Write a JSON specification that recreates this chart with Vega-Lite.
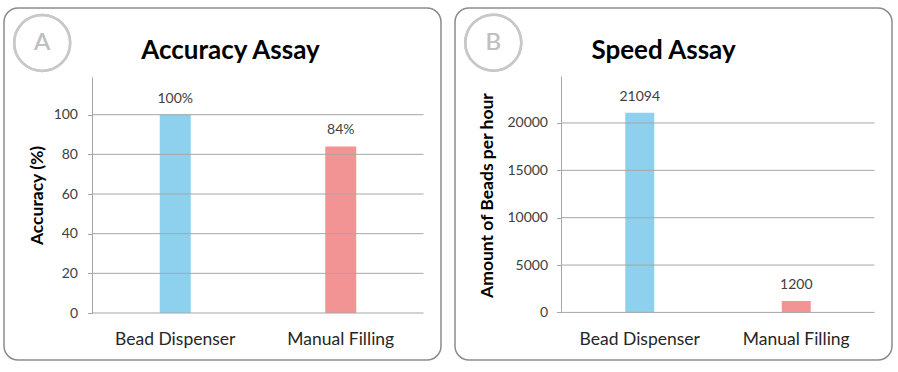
{
  "$schema": "https://vega.github.io/schema/vega-lite/v6.json",
  "background": "white",
  "padding": {"left": 3, "top": 7, "right": 0, "bottom": 0},
  "spacing": 12,
  "config": {
    "view": {"stroke": "#8c8c8c", "strokeWidth": 1.5, "cornerRadius": 14},
    "font": "Lato"
  },
  "hconcat": [
    {
      "width": 437,
      "height": 352,
      "title": {"text": "Accuracy Assay", "offset": -77, "dx": 8, "baseline": "alphabetic", "fontSize": 26, "font": "Lato", "fontWeight": "bold", "color": "#000000"},
      "data": {"values": [
        {"method": "Bead Dispenser", "accuracy": 100, "label": "100%"},
        {"method": "Manual Filling", "accuracy": 84, "label": "84%"}
      ]},
      "layer": [
        {
          "mark": {"type": "bar", "width": 31},
          "encoding": {
            "x": {
              "field": "method", "type": "nominal",
              "scale": {"domain": ["Bead Dispenser", "Manual Filling"], "paddingInner": 0, "paddingOuter": 0.3202, "align": 0.8349},
              "axis": {"orient": "bottom", "offset": -47, "domain": false, "ticks": false, "tickSize": 0, "labelPadding": 17, "labelAngle": 0, "title": null, "labelFont": "Lato", "labelFontSize": 17.5, "labelColor": "#262626", "grid": false}
            },
            "y": {
              "field": "accuracy", "type": "quantitative",
              "scale": {"domain": [-23.7, 153.8], "nice": false, "zero": false},
              "axis": {"orient": "left", "offset": -88.5, "values": [0, 20, 40, 60, 80, 100], "domain": false, "grid": false, "ticks": true, "tickSize": 5, "tickColor": "#a6a6a6", "labelPadding": 10, "labelFont": "Lato", "labelFontSize": 14, "labelColor": "#404040", "title": "Accuracy (%)", "titleFont": "Lato", "titleFontSize": 17.5, "titleFontWeight": "bold", "titleColor": "#000000", "titleX": -50.5, "titleY": 187, "titleAngle": -90, "titleBaseline": "alphabetic", "titleAlign": "center"}
            },
            "color": {"field": "method", "type": "nominal", "scale": {"domain": ["Bead Dispenser", "Manual Filling"], "range": ["#8DD1EE", "#F29494"]}, "legend": null}
          }
        },
        {
          "data": {"values": [{"tick": 0}, {"tick": 20}, {"tick": 40}, {"tick": 60}, {"tick": 80}, {"tick": 100}]},
          "mark": {"type": "rule", "color": "#a6a6a6", "strokeWidth": 1},
          "encoding": {
            "y": {"field": "tick", "type": "quantitative"},
            "x": {"datum": "Bead Dispenser", "type": "nominal", "bandPosition": 0},
            "x2": {"datum": "Manual Filling", "bandPosition": 1}
          }
        },
        {
          "mark": {"type": "rule", "color": "#a6a6a6", "strokeWidth": 1},
          "encoding": {
            "x": {"datum": "Bead Dispenser", "type": "nominal", "bandPosition": 0},
            "y": {"datum": 0, "type": "quantitative"},
            "y2": {"datum": 118.7}
          }
        },
        {
          "mark": {"type": "text", "dy": -12, "baseline": "alphabetic", "font": "Lato", "fontSize": 14, "color": "#404040"},
          "encoding": {
            "x": {"field": "method", "type": "nominal"},
            "y": {"field": "accuracy", "type": "quantitative"},
            "text": {"field": "label"}
          }
        },
        {
          "mark": {"type": "point", "shape": "circle", "size": 3136, "filled": false, "stroke": "#c8c8c8", "strokeWidth": 2.5, "opacity": 1},
          "encoding": {
            "x": {"datum": "Bead Dispenser", "type": "nominal", "bandPosition": -0.304},
            "y": {"datum": 136.2, "type": "quantitative"}
          }
        },
        {
          "mark": {"type": "text", "text": "A", "font": "Lato", "fontSize": 24, "color": "#c0c0c0", "baseline": "middle", "align": "center"},
          "encoding": {
            "x": {"datum": "Bead Dispenser", "type": "nominal", "bandPosition": -0.304},
            "y": {"datum": 136.2, "type": "quantitative"}
          }
        }
      ]
    },
    {
      "width": 437,
      "height": 352,
      "title": {"text": "Speed Assay", "offset": -77, "dx": -10, "baseline": "alphabetic", "fontSize": 26, "font": "Lato", "fontWeight": "bold", "color": "#000000"},
      "data": {"values": [
        {"method": "Bead Dispenser", "beads": 21094},
        {"method": "Manual Filling", "beads": 1200}
      ]},
      "layer": [
        {
          "mark": {"type": "bar", "width": 29},
          "encoding": {
            "x": {
              "field": "method", "type": "nominal",
              "scale": {"domain": ["Bead Dispenser", "Manual Filling"], "paddingInner": 0, "paddingOuter": 0.3962, "align": 0.8589},
              "axis": {"orient": "bottom", "offset": -47, "domain": false, "ticks": false, "tickSize": 0, "labelPadding": 17, "labelAngle": 0, "title": null, "labelFont": "Lato", "labelFontSize": 17.5, "labelColor": "#262626", "grid": false}
            },
            "y": {
              "field": "beads", "type": "quantitative",
              "scale": {"domain": [-5026, 32143], "nice": false, "zero": false},
              "axis": {"orient": "left", "offset": -106.5, "values": [0, 5000, 10000, 15000, 20000], "format": "d", "domain": false, "grid": false, "ticks": true, "tickSize": 5, "tickColor": "#a6a6a6", "labelPadding": 9, "labelFont": "Lato", "labelFontSize": 14, "labelColor": "#404040", "title": "Amount of Beads per hour", "titleFont": "Lato", "titleFontSize": 17.5, "titleFontWeight": "bold", "titleColor": "#000000", "titleX": -69.5, "titleY": 187, "titleAngle": -90, "titleBaseline": "alphabetic", "titleAlign": "center"}
            },
            "color": {"field": "method", "type": "nominal", "scale": {"domain": ["Bead Dispenser", "Manual Filling"], "range": ["#8DD1EE", "#F29494"]}, "legend": null}
          }
        },
        {
          "data": {"values": [{"tick": 0}, {"tick": 5000}, {"tick": 10000}, {"tick": 15000}, {"tick": 20000}]},
          "mark": {"type": "rule", "color": "#a6a6a6", "strokeWidth": 1},
          "encoding": {
            "y": {"field": "tick", "type": "quantitative"},
            "x": {"datum": "Bead Dispenser", "type": "nominal", "bandPosition": 0},
            "x2": {"datum": "Manual Filling", "bandPosition": 1}
          }
        },
        {
          "mark": {"type": "rule", "color": "#a6a6a6", "strokeWidth": 1},
          "encoding": {
            "x": {"datum": "Bead Dispenser", "type": "nominal", "bandPosition": 0},
            "y": {"datum": 0, "type": "quantitative"},
            "y2": {"datum": 24890}
          }
        },
        {
          "mark": {"type": "text", "dy": -12, "baseline": "alphabetic", "font": "Lato", "fontSize": 14, "color": "#404040"},
          "encoding": {
            "x": {"field": "method", "type": "nominal"},
            "y": {"field": "beads", "type": "quantitative"},
            "text": {"field": "beads", "type": "quantitative", "format": "d"}
          }
        },
        {
          "mark": {"type": "point", "shape": "circle", "size": 3136, "filled": false, "stroke": "#c8c8c8", "strokeWidth": 2.5, "opacity": 1},
          "encoding": {
            "x": {"datum": "Bead Dispenser", "type": "nominal", "bandPosition": -0.436},
            "y": {"datum": 28480, "type": "quantitative"}
          }
        },
        {
          "mark": {"type": "text", "text": "B", "font": "Lato", "fontSize": 24, "color": "#c0c0c0", "baseline": "middle", "align": "center"},
          "encoding": {
            "x": {"datum": "Bead Dispenser", "type": "nominal", "bandPosition": -0.436},
            "y": {"datum": 28480, "type": "quantitative"}
          }
        }
      ],
      "resolve": {"scale": {"color": "independent"}}
    }
  ]
}
